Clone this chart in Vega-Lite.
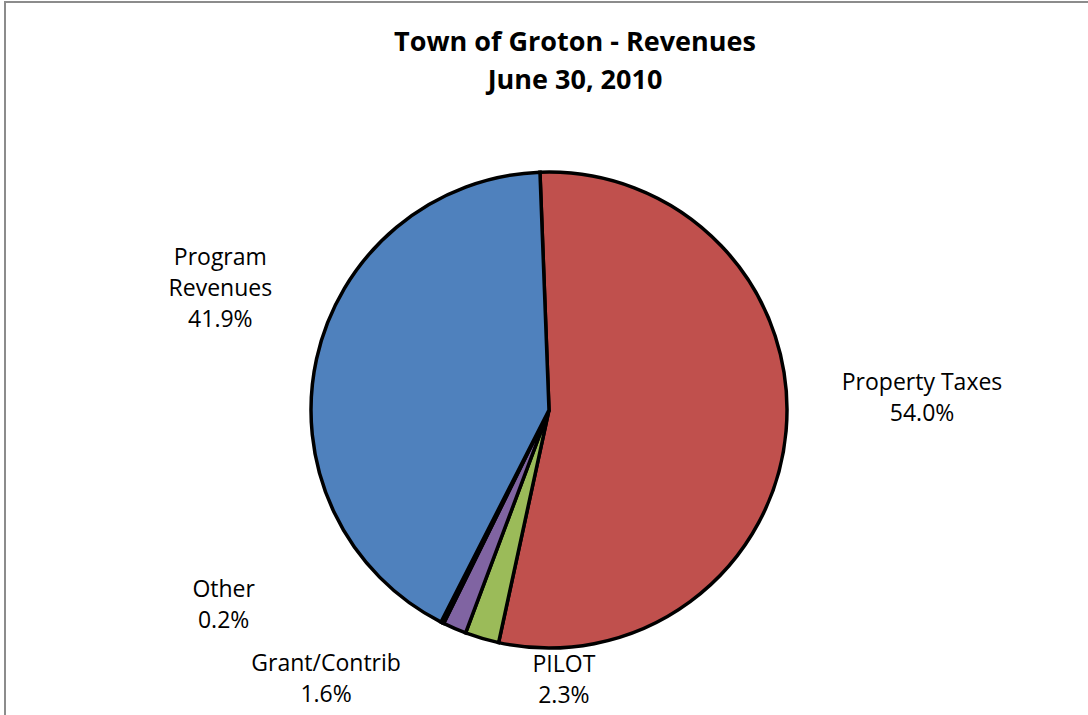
{
  "$schema": "https://vega.github.io/schema/vega-lite/v6.json",
  "width": 1088,
  "height": 816,
  "autosize": "none",
  "padding": {"left": 5, "top": 2, "right": -5, "bottom": -103},
  "background": "white",
  "view": {"stroke": "#8c8c8c", "strokeWidth": 2, "fill": "white"},
  "config": {"view": {"stroke": "#8c8c8c", "strokeWidth": 2}},
  "title": {
    "text": ["Town of Groton - Revenues", "June 30, 2010"],
    "font": "Open Sans",
    "fontSize": 27,
    "fontWeight": "bold",
    "color": "black",
    "lineHeight": 38,
    "anchor": "middle",
    "frame": "group",
    "baseline": "top",
    "offset": -93,
    "dx": 26
  },
  "data": {
    "values": [
      {"idx": 1, "name": "Property Taxes", "value": 54.0, "label": ["Property Taxes", "54.0%"]},
      {"idx": 2, "name": "PILOT", "value": 2.3, "label": ["PILOT", "2.3%"]},
      {"idx": 3, "name": "Grant/Contrib", "value": 1.6, "label": ["Grant/Contrib", "1.6%"]},
      {"idx": 4, "name": "Other", "value": 0.2, "label": ["Other", "0.2%"]},
      {"idx": 5, "name": "Program Revenues", "value": 41.9, "label": ["Program", "Revenues", "41.9%"]}
    ]
  },
  "encoding": {
    "theta": {"field": "value", "type": "quantitative", "stack": true, "scale": {"domain": [0, 100], "range": [-0.038, 6.2452]}},
    "order": {"field": "idx", "type": "quantitative"}
  },
  "layer": [
    {
      "mark": {"type": "arc", "outerRadius": 238, "stroke": "black", "strokeWidth": 3.5},
      "encoding": {
        "color": {
          "field": "name",
          "type": "nominal",
          "scale": {
            "domain": ["Property Taxes", "PILOT", "Grant/Contrib", "Other", "Program Revenues"],
            "range": ["#C0504D", "#9BBB59", "#8064A2", "#4BACC6", "#4F81BD"]
          },
          "legend": null
        }
      }
    },
    {
      "mark": {"type": "text", "radius": 374, "thetaOffset": -0.159, "font": "Open Sans", "fontSize": 23, "lineHeight": 31, "align": "center", "baseline": "middle", "color": "black"},
      "encoding": {
        "detail": {"field": "name", "type": "nominal"},
        "text": {"condition": {"test": "datum.name === 'Property Taxes'", "field": "label"}, "value": ""}
      }
    },
    {
      "mark": {"type": "text", "radius": 362, "thetaOffset": 0.216, "font": "Open Sans", "fontSize": 23, "lineHeight": 31, "align": "center", "baseline": "middle", "color": "black"},
      "encoding": {
        "detail": {"field": "name", "type": "nominal"},
        "text": {"condition": {"test": "datum.name === 'Program Revenues'", "field": "label"}, "value": ""}
      }
    },
    {
      "mark": {"type": "text", "radius": 372, "thetaOffset": 0.6, "font": "Open Sans", "fontSize": 23, "lineHeight": 31, "align": "center", "baseline": "middle", "color": "black"},
      "encoding": {
        "detail": {"field": "name", "type": "nominal"},
        "text": {"condition": {"test": "datum.name === 'Other'", "field": "label"}, "value": ""}
      }
    },
    {
      "mark": {"type": "text", "radius": 338, "thetaOffset": 0.312, "font": "Open Sans", "fontSize": 23, "lineHeight": 31, "align": "center", "baseline": "middle", "color": "black"},
      "encoding": {
        "detail": {"field": "name", "type": "nominal"},
        "text": {"condition": {"test": "datum.name === 'Grant/Contrib'", "field": "label"}, "value": ""}
      }
    },
    {
      "mark": {"type": "text", "radius": 255, "thetaOffset": -0.344, "font": "Open Sans", "fontSize": 23, "lineHeight": 31, "align": "center", "baseline": "middle", "color": "black"},
      "encoding": {
        "detail": {"field": "name", "type": "nominal"},
        "text": {"condition": {"test": "datum.name === 'PILOT'", "field": "label"}, "value": ""}
      }
    }
  ]
}
